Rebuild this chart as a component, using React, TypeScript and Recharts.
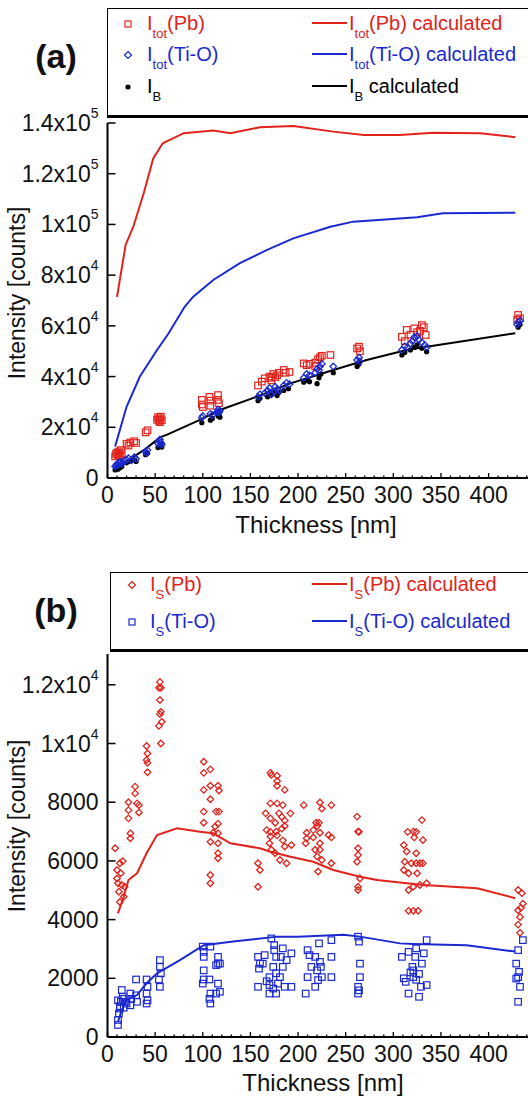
import { ComposedChart, Line, Scatter, XAxis, YAxis } from "recharts";

const FONT = '"Liberation Sans", Arial, Helvetica, sans-serif';
const RED = "#e2231c";
const BLUE = "#1b2ad0";
const BLACK = "#000";

type Pt = [number, number];

// shared thickness axis
const X_DOMAIN: [number, number] = [0, 444];
const X_TICKS = Array.from({ length: 45 }, (_, i) => i * 10);

// ---------- panel (a): total intensities ----------
const A_Y_TICKS = [0, 20000, 40000, 60000, 80000, 100000, 120000, 140000];
const A_Y_LABELS: [string, string][] = [
    ["0", ""], ["2x10", "4"], ["4x10", "4"], ["6x10", "4"],
    ["8x10", "4"], ["1x10", "5"], ["1.2x10", "5"], ["1.4x10", "5"],
];
const A_RIGHT_TICKS = [1, 2, 3, 4, 5, 6];

const A_PB_TOT: Pt[] = [
    [8, 8500], [9, 9500], [10, 10000], [11, 8800], [12, 10500], [13, 9200], [14, 11000], [15, 9800], [12, 9000],
    [20, 13500], [22, 12800], [24, 14000], [28, 14500], [30, 13800],
    [40, 18000], [42, 18800],
    [52, 23000], [53, 24000], [54, 22500], [55, 23500], [56, 24200], [57, 22800], [55, 22000],
    [99, 30800], [99, 29000], [100, 28000], [107, 32000], [108, 28500], [108, 30500], [116, 32700], [116, 30800], [117, 29500],
    [158, 36500], [162, 38000], [165, 39300], [170, 40000], [172, 38500], [174, 41000], [176, 39800], [178, 40500],
    [180, 41500], [172, 39500], [185, 42600], [187, 41500], [191, 41800],
    [206, 45200], [209, 44500], [212, 45000], [218, 45500], [221, 46800], [223, 47600], [225, 48200], [218, 44000], [234, 48500],
    [262, 51100], [264, 51800], [265, 50000],
    [309, 55700], [312, 54000], [314, 58400], [318, 56500], [322, 59000], [325, 57500], [328, 58000], [330, 60300], [332, 59500], [334, 56400],
    [431, 64300], [433, 63000], [430, 62500],
];

const A_TI_TOT: Pt[] = [
    [8, 4500], [9, 5000], [10, 5500], [11, 5200], [12, 6000], [13, 5800], [14, 6300], [15, 5600], [18, 6800],
    [20, 7200], [22, 7800], [25, 7000], [28, 8200], [30, 7600],
    [40, 10500], [42, 11000], [41, 9800],
    [53, 13500], [54, 14500], [55, 15200], [56, 14000], [57, 13200],
    [99, 23800], [100, 24500], [108, 25300], [110, 24800], [115, 26000], [116, 27000], [117, 25800], [118, 26500],
    [158, 32000], [160, 33000], [165, 33500], [168, 34500], [170, 35500], [172, 33000], [175, 34000], [176, 36000],
    [178, 35000], [180, 34500], [185, 36500], [188, 37500], [191, 37000],
    [206, 39500], [209, 41000], [212, 40500], [218, 41500], [220, 43000], [222, 42500], [223, 44000], [225, 45000], [237, 44000],
    [262, 46500], [264, 47500], [265, 46000],
    [309, 50500], [312, 52000], [315, 51500], [318, 53000], [320, 54000], [322, 55500], [325, 56000], [327, 54500],
    [330, 53500], [333, 52500], [335, 51500],
    [431, 61500], [433, 62000], [430, 60500],
];

const A_B: Pt[] = [
    [8, 3200], [9, 3800], [10, 4200], [11, 3500], [12, 4800], [13, 4000], [14, 5000], [15, 4500],
    [20, 6000], [22, 6500], [25, 6800], [28, 7200], [30, 6500],
    [40, 9200], [42, 9800],
    [53, 12000], [55, 12800], [56, 13300], [57, 12200],
    [99, 21800], [108, 22800], [110, 23500], [116, 24500], [117, 25200], [118, 24000],
    [158, 30500], [160, 31500], [168, 32000], [172, 32800], [175, 33500], [178, 32500], [180, 33800], [185, 34500], [190, 35200],
    [206, 37800], [209, 38500], [212, 38000], [220, 37200], [222, 39500], [224, 41000], [237, 41500],
    [262, 44000], [264, 45000],
    [309, 48500], [312, 49500], [318, 50500], [322, 51500], [325, 52500], [330, 51200], [335, 49800],
    [431, 59500], [433, 60500],
];

const A_PB_CALC_X = [10, 19, 27, 38, 48, 58, 80, 111, 129, 160, 195, 237, 269, 307, 342, 391, 428];
const A_PB_CALC_Y = [71400, 91900, 99000, 112300, 126000, 132000, 136000, 137000, 136000, 138300, 138800, 136600, 135300, 135300, 136200, 136000, 134400];
const A_TI_CALC_X = [8, 20, 34, 52, 64, 81, 90, 111, 139, 167, 195, 234, 258, 325, 352, 428];
const A_TI_CALC_Y = [12400, 28100, 40000, 50500, 57000, 67500, 71500, 78100, 84700, 89900, 94500, 99100, 101100, 102800, 104400, 104600];
const A_B_CALC_X = [8, 20, 30, 40, 55, 62, 97, 118, 157, 192, 237, 272, 314, 335, 428];
const A_B_CALC_Y = [3400, 6500, 9000, 11500, 16000, 17000, 22900, 26800, 32100, 37300, 42600, 46500, 50500, 51800, 57100];

// ---------- panel (b): surface intensities ----------
const B_Y_TICKS = [0, 2000, 4000, 6000, 8000, 10000, 12000];
const B_Y_LABELS: [string, string][] = [
    ["0", ""], ["2000", ""], ["4000", ""], ["6000", ""], ["8000", ""], ["1x10", "4"], ["1.2x10", "4"],
];
const B_RIGHT_TICKS = [1, 2, 3, 4];

const B_PB_S: Pt[] = [
    [8, 6430], [10, 5690], [11, 5240], [12, 4950], [13, 5920], [14, 5580], [15, 5180], [16, 5990], [17, 4780], [18, 5120],
    [13, 4600], [10, 5400], [24, 6940], [24, 6770], [22, 8000], [22, 7730], [22, 7450], [29, 8530], [29, 8300], [31, 7960],
    [33, 7900], [33, 7650],
    [41, 9915], [42, 9660], [41, 9440], [42, 9340], [42, 9020],
    [55, 12100], [54, 11900], [56, 11900], [55, 11480], [56, 11080], [55, 11000], [57, 10740], [54, 10600], [56, 10000],
    [101, 9380], [101, 9000], [108, 9120], [101, 8420], [108, 8560], [108, 8100], [116, 8560], [117, 8400], [101, 7680],
    [114, 7680], [117, 7680], [101, 7300], [113, 7170], [111, 6960], [108, 6650], [116, 7270], [116, 6940], [116, 6600],
    [116, 6260], [116, 6090], [108, 5520], [108, 5240],
    [171, 9000], [178, 8900], [172, 8930], [178, 8720], [178, 8560], [186, 8420], [171, 7960], [178, 7960], [184, 7900],
    [166, 7620], [180, 7620], [183, 7500], [192, 7620], [171, 7450], [176, 7300], [186, 7380], [186, 7190], [171, 6990],
    [178, 6870], [183, 7100], [158, 5920], [160, 5690], [158, 5120], [167, 7050], [171, 6830], [172, 6380], [176, 6260],
    [181, 6030], [186, 6490], [184, 6700], [188, 5920], [193, 6540], [177, 7000], [170, 6600],
    [206, 7900], [223, 7990], [225, 7780], [235, 7900], [219, 7300], [222, 7300], [220, 7190], [209, 6960], [216, 6800],
    [223, 6960], [235, 6800], [208, 6600], [209, 6770], [216, 7050], [218, 6380], [220, 6150], [223, 6600], [223, 6380],
    [225, 6030], [221, 5640], [232, 6880], [235, 5920],
    [262, 7510], [264, 6990], [263, 7000], [263, 6430], [263, 6200], [262, 5970], [263, 5120], [263, 5010], [265, 5400],
    [315, 6990], [324, 6990], [322, 6800], [330, 7390], [311, 6540], [314, 6320], [312, 5970], [311, 5690], [316, 5580],
    [319, 5920], [324, 5920], [325, 5580], [328, 5920], [328, 5180], [316, 5010], [321, 5120], [324, 6260], [321, 7000],
    [331, 6710], [331, 5920], [316, 4300], [321, 4300], [326, 4300], [335, 5240],
    [431, 5010], [435, 4900], [431, 4320], [433, 4090], [431, 3830], [433, 3550], [436, 4540], [434, 4400],
];

const B_TI_S: Pt[] = [
    [11, 410], [11, 580], [12, 800], [13, 970], [14, 1200], [16, 1370], [11, 1250], [15, 1600], [16, 1300], [19, 1200],
    [20, 1140], [13, 1050], [17, 1000],
    [24, 1080], [24, 1480], [25, 1300], [30, 1420], [30, 1960], [31, 1200],
    [41, 1960], [42, 1710], [41, 1480], [42, 1250], [41, 1140],
    [55, 2620], [55, 2390], [56, 2170], [54, 1960], [55, 1710],
    [100, 3080], [101, 2900], [108, 3080], [101, 2730], [101, 2270], [101, 1960], [107, 1960], [100, 1820], [108, 1480],
    [107, 1300], [108, 1140], [116, 2730], [116, 2500], [118, 2500], [114, 2450], [116, 1820], [118, 1540], [114, 1480],
    [158, 2730], [160, 2500], [159, 2330], [158, 1710], [163, 2500], [165, 2790], [170, 2040], [170, 1770], [170, 1480],
    [172, 3360], [175, 3130], [175, 2960], [177, 2730], [174, 2390], [177, 2170], [179, 1820], [177, 1480], [181, 2040],
    [182, 2730], [184, 3020], [184, 2390], [186, 1710], [188, 2620], [193, 2850], [193, 1710], [167, 1900], [174, 1650],
    [208, 1480], [210, 2960], [210, 2040], [212, 2790], [214, 2390], [218, 2730], [218, 1710], [220, 2270], [221, 1940],
    [222, 3190], [223, 2560], [224, 2390], [225, 2040], [235, 3300], [235, 2730], [235, 2040],
    [263, 3420], [264, 3250], [265, 2500], [265, 2040], [263, 1710], [263, 1480], [264, 1590],
    [309, 2730], [311, 2000], [313, 1880], [316, 1480], [316, 2900], [320, 2390], [321, 2040], [321, 2270], [323, 2730],
    [324, 3020], [324, 1950], [327, 1370], [329, 1710], [330, 2500], [332, 2850], [335, 3300], [335, 1770], [318, 2200], [327, 2150],
    [431, 2960], [429, 2500], [432, 2220], [431, 2040], [429, 1990], [433, 1710], [431, 1200], [436, 3300],
];

const B_PB_CALC_X = [11, 17, 22, 31, 41, 52, 73, 97, 111, 129, 160, 171, 192, 216, 237, 265, 283, 314, 332, 388, 428];
const B_PB_CALC_Y = [4210, 4780, 5350, 5580, 6260, 6880, 7110, 6990, 6940, 6600, 6430, 6310, 6140, 5970, 5690, 5460, 5350, 5240, 5180, 5070, 4730];
const B_TI_CALC_X = [11, 15, 20, 31, 41, 52, 76, 101, 132, 178, 200, 248, 265, 307, 321, 377, 428];
const B_TI_CALC_Y = [520, 920, 1260, 1430, 1830, 2170, 2620, 3130, 3250, 3420, 3420, 3480, 3420, 3190, 3170, 3130, 2910];

function pts(list: Pt[]) {
    return list.map(([x, y]) => ({ x, y }));
}

function curve(xs: number[], ys: number[]) {
    return xs.map((x, i) => ({ x, y: ys[i] }));
}

// marker shapes
const square = (color: string, s: number) => (p: any) => (
    <rect x={p.cx - s / 2} y={p.cy - s / 2} width={s} height={s} fill="none" stroke={color} strokeWidth={1.2} />
);
const diamond = (color: string, s: number) => (p: any) => (
    <path
        d={`M${p.cx},${p.cy - s / 2}L${p.cx + s / 2},${p.cy}L${p.cx},${p.cy + s / 2}L${p.cx - s / 2},${p.cy}Z`}
        fill="none"
        stroke={color}
        strokeWidth={1.3}
    />
);
const dot = (color: string, r: number) => (p: any) => <circle cx={p.cx} cy={p.cy} r={r} fill={color} />;

function BottomTick({ x, y, payload }: any) {
    const v = payload.value;
    const major = v % 50 === 0;
    return (
        <g>
            <line x1={x} x2={x} y1={y} y2={y - (major ? 5 : 2.5)} stroke={BLACK} strokeWidth={1.3} />
            {major && (
                <text x={x} y={y + 25} textAnchor="middle" fontSize={23} fill="#111" fontFamily={FONT}>
                    {v}
                </text>
            )}
        </g>
    );
}

function TopTick({ x, y, payload }: any) {
    const major = payload.value % 50 === 0;
    return <line x1={x} x2={x} y1={y} y2={y + (major ? 5 : 2.5)} stroke={BLACK} strokeWidth={1.3} />;
}

const leftTick = (ticks: number[], labels: [string, string][]) => ({ x, y, payload }: any) => {
    const idx = ticks.indexOf(payload.value);
    const [base, exp] = labels[idx] ?? ["", ""];
    return (
        <g>
            <line x1={x} x2={x + 8} y1={y} y2={y} stroke={BLACK} strokeWidth={1.5} />
            <text x={x - 9} y={y + 8} textAnchor="end" fontSize={23} fill="#111" fontFamily={FONT}>
                {base}
                {exp && (
                    <tspan dy={-13} fontSize={14}>
                        {exp}
                    </tspan>
                )}
            </text>
        </g>
    );
};

type ScatterDef = { data: Pt[]; shape: (p: any) => any };
type LineDef = { xs: number[]; ys: number[]; color: string };

type PanelProps = {
    top: number;
    height: number;
    marginTop: number;
    yMax: number;
    yTicks: number[];
    yLabels: [string, string][];
    rightMax: number;
    rightTicks: number[];
    scatters: ScatterDef[];
    lines: LineDef[];
};

function Panel({ top, height, marginTop, yMax, yTicks, yLabels, rightMax, rightTicks, scatters, lines }: PanelProps) {
    return (
        <div style={{ position: "absolute", left: 0, top }}>
            <ComposedChart width={545} height={height} margin={{ top: marginTop, right: 0, bottom: 0, left: 0 }}>
                <XAxis
                    xAxisId="b"
                    type="number"
                    dataKey="x"
                    domain={X_DOMAIN}
                    allowDataOverflow
                    ticks={X_TICKS}
                    interval={0}
                    height={62}
                    tickSize={0}
                    tickMargin={0}
                    tickLine={false}
                    axisLine={{ stroke: BLACK, strokeWidth: 2 }}
                    tick={<BottomTick />}
                />
                <XAxis
                    xAxisId="t"
                    orientation="top"
                    type="number"
                    dataKey="x"
                    domain={X_DOMAIN}
                    allowDataOverflow
                    ticks={X_TICKS}
                    interval={0}
                    height={0}
                    tickSize={0}
                    tickMargin={0}
                    tickLine={false}
                    axisLine={{ stroke: BLACK, strokeWidth: 2.5 }}
                    tick={<TopTick />}
                />
                <YAxis
                    yAxisId="l"
                    type="number"
                    dataKey="y"
                    domain={[0, yMax]}
                    allowDataOverflow
                    ticks={yTicks}
                    interval={0}
                    width={107.5}
                    tickSize={0}
                    tickMargin={0}
                    tickLine={false}
                    axisLine={{ stroke: BLACK, strokeWidth: 2 }}
                    tick={leftTick(yTicks, yLabels)}
                />
                <YAxis
                    yAxisId="r"
                    orientation="right"
                    type="number"
                    domain={[0, rightMax]}
                    allowDataOverflow
                    ticks={rightTicks}
                    interval={0}
                    width={14.5}
                    tickSize={-7}
                    tick={false}
                    tickLine={{ stroke: BLACK, strokeWidth: 1.5 }}
                    axisLine={false}
                />
                {scatters.map((s, i) => (
                    <Scatter
                        key={`s${i}`}
                        xAxisId="b"
                        yAxisId="l"
                        data={pts(s.data)}
                        shape={s.shape}
                        isAnimationActive={false}
                    />
                ))}
                {lines.map((l, i) => (
                    <Line
                        key={`l${i}`}
                        xAxisId="b"
                        yAxisId="l"
                        data={curve(l.xs, l.ys)}
                        dataKey="y"
                        type="linear"
                        stroke={l.color}
                        strokeWidth={2}
                        dot={false}
                        isAnimationActive={false}
                    />
                ))}
            </ComposedChart>
        </div>
    );
}

function Abs({ x, y, children, style }: any) {
    return (
        <div
            style={{
                position: "absolute",
                left: x,
                top: y,
                transform: "translate(0,-50%)",
                whiteSpace: "nowrap",
                lineHeight: 1,
                ...style,
            }}
        >
            {children}
        </div>
    );
}

const subStyle = { fontSize: 13, verticalAlign: "-8px", lineHeight: 0 } as const;

function Marker({ x, y, kind }: { x: number; y: number; kind: string }) {
    return (
        <svg style={{ position: "absolute", left: x - 6, top: y - 6 }} width={12} height={12}>
            {kind === "redSquare" && <rect x={3} y={3} width={6} height={6} fill="none" stroke={RED} strokeWidth={1.2} />}
            {kind === "blueSquare" && <rect x={3} y={3} width={6} height={6} fill="none" stroke={BLUE} strokeWidth={1.2} />}
            {kind === "blueDiamond" && <path d="M6,2.5L9.5,6L6,9.5L2.5,6Z" fill="none" stroke={BLUE} strokeWidth={1.2} />}
            {kind === "redDiamond" && <path d="M6,2.5L9.5,6L6,9.5L2.5,6Z" fill="none" stroke={RED} strokeWidth={1.2} />}
            {kind === "blackDot" && <circle cx={6} cy={6} r={2.6} fill={BLACK} />}
        </svg>
    );
}

function LineSample({ y, color }: { y: number; color: string }) {
    return <div style={{ position: "absolute", left: 312, top: y - 1, width: 35, height: 2, background: color }} />;
}

function LegendItem({ x, y, color, sub, text }: { x: number; y: number; color: string; sub: string; text: string }) {
    return (
        <Abs x={x} y={y} style={{ fontSize: 20, color }}>
            I<sub style={subStyle}>{sub}</sub>
            {text}
        </Abs>
    );
}

export default function App() {
    return (
        <div
            style={{
                position: "absolute",
                left: 0,
                top: 0,
                width: 528,
                height: 1099,
                overflow: "hidden",
                background: "#fff",
                fontFamily: FONT,
                color: "#111",
            }}
        >
            <Panel
                top={0}
                height={540}
                marginTop={123}
                yMax={140000}
                yTicks={A_Y_TICKS}
                yLabels={A_Y_LABELS}
                rightMax={6.12}
                rightTicks={A_RIGHT_TICKS}
                scatters={[
                    { data: A_PB_TOT, shape: square(RED, 6.5) },
                    { data: A_B, shape: dot(BLACK, 2.6) },
                    { data: A_TI_TOT, shape: diamond(BLUE, 6.5) },
                ]}
                lines={[
                    { xs: A_PB_CALC_X, ys: A_PB_CALC_Y, color: RED },
                    { xs: A_TI_CALC_X, ys: A_TI_CALC_Y, color: BLUE },
                    { xs: A_B_CALC_X, ys: A_B_CALC_Y, color: BLACK },
                ]}
            />
            <Panel
                top={560}
                height={539}
                marginTop={94}
                yMax={13050}
                yTicks={B_Y_TICKS}
                yLabels={B_Y_LABELS}
                rightMax={4.67}
                rightTicks={B_RIGHT_TICKS}
                scatters={[
                    { data: B_PB_S, shape: diamond(RED, 6.5) },
                    { data: B_TI_S, shape: square(BLUE, 6.5) },
                ]}
                lines={[
                    { xs: B_PB_CALC_X, ys: B_PB_CALC_Y, color: RED },
                    { xs: B_TI_CALC_X, ys: B_TI_CALC_Y, color: BLUE },
                ]}
            />

            {/* panel (a) decorations */}
            <Abs x={56} y={56} style={{ fontSize: 34, fontWeight: "bold", transform: "translate(-50%,-50%)" }}>
                (a)
            </Abs>
            <div
                style={{
                    position: "absolute",
                    left: 107,
                    top: 8,
                    width: 440,
                    height: 106,
                    border: "1.5px solid #000",
                    borderBottomWidth: 3,
                    background: "#fff",
                }}
            />
            <Marker x={128} y={24} kind="redSquare" />
            <LegendItem x={147} y={23} color={RED} sub="tot" text="(Pb)" />
            <Marker x={128} y={55} kind="blueDiamond" />
            <LegendItem x={147} y={54} color={BLUE} sub="tot" text="(Ti-O)" />
            <Marker x={128} y={87} kind="blackDot" />
            <LegendItem x={147} y={86} color={BLACK} sub="B" text="" />
            <LineSample y={23} color={RED} />
            <LegendItem x={349} y={23} color={RED} sub="tot" text="(Pb) calculated" />
            <LineSample y={54} color={BLUE} />
            <LegendItem x={349} y={54} color={BLUE} sub="tot" text="(Ti-O) calculated" />
            <LineSample y={86} color={BLACK} />
            <LegendItem x={349} y={86} color={BLACK} sub="B" text=" calculated" />
            <Abs x={17} y={293} style={{ fontSize: 23, transform: "translate(-50%,-50%) rotate(-90deg)" }}>
                Intensity [counts]
            </Abs>
            <Abs x={316} y={525} style={{ fontSize: 24, transform: "translate(-50%,-50%)" }}>
                Thickness [nm]
            </Abs>

            {/* panel (b) decorations */}
            <Abs x={56} y={610} style={{ fontSize: 34, fontWeight: "bold", transform: "translate(-50%,-50%)" }}>
                (b)
            </Abs>
            <div
                style={{
                    position: "absolute",
                    left: 110,
                    top: 572,
                    width: 440,
                    height: 76,
                    border: "1.5px solid #000",
                    borderBottomWidth: 3,
                    background: "#fff",
                }}
            />
            <Marker x={132} y={585} kind="redDiamond" />
            <LegendItem x={150} y={584} color={RED} sub="S" text="(Pb)" />
            <Marker x={132} y={622} kind="blueSquare" />
            <LegendItem x={150} y={621} color={BLUE} sub="S" text="(Ti-O)" />
            <LineSample y={584} color={RED} />
            <LegendItem x={349} y={584} color={RED} sub="S" text="(Pb) calculated" />
            <LineSample y={621} color={BLUE} />
            <LegendItem x={349} y={621} color={BLUE} sub="S" text="(Ti-O) calculated" />
            <Abs x={17} y={826} style={{ fontSize: 23, transform: "translate(-50%,-50%) rotate(-90deg)" }}>
                Intensity [counts]
            </Abs>
            <Abs x={323} y={1083} style={{ fontSize: 24, transform: "translate(-50%,-50%)" }}>
                Thickness [nm]
            </Abs>
        </div>
    );
}
